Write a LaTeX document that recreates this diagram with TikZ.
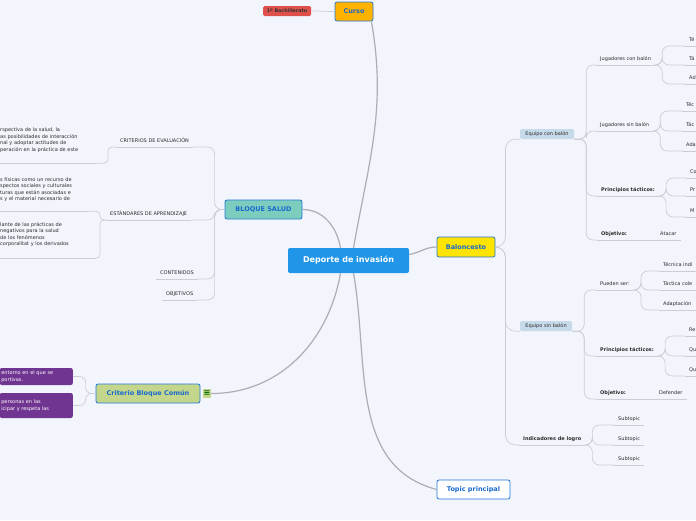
\documentclass[tikz,border=0pt]{standalone}
\usepackage{fontspec}
\setmainfont{DejaVu Sans}
\definecolor{bgcol}{RGB}{243,245,252}
\definecolor{maincol}{RGB}{33,150,232}
\definecolor{edgeblue}{RGB}{35,120,215}
\definecolor{txtblue}{RGB}{25,105,205}
\definecolor{orangecol}{RGB}{255,178,0}
\definecolor{yellowcol}{RGB}{255,228,0}
\definecolor{tealcol}{RGB}{125,205,190}
\definecolor{greencol}{RGB}{195,214,140}
\definecolor{redcol}{RGB}{222,80,74}
\definecolor{purplecol}{RGB}{112,52,145}
\definecolor{lightblue}{RGB}{198,218,234}
\definecolor{linecol}{RGB}{204,206,214}
\definecolor{maingray}{RGB}{172,174,182}
\definecolor{txtgray}{RGB}{45,45,45}
\newcommand*{\mapfs}{\fontsize{5}{6.5}\selectfont}

\begin{document}
\begin{tikzpicture}[x=1pt,y=1pt,
    topbox/.style={draw=edgeblue,line width=0.8pt,rounded corners=2pt,inner sep=0pt,
      font=\fontsize{6.5}{7}\selectfont\bfseries,text=txtblue},
    mainbox/.style={fill=maincol,rounded corners=2pt,inner sep=0pt,text=white,
      font=\fontsize{8}{9}\selectfont\bfseries,minimum width=121pt,minimum height=25pt},
    eqbox/.style={fill=lightblue,rounded corners=1.5pt,inner sep=0pt,font=\mapfs,text=txtgray,
      minimum height=10pt},
    purplebox/.style={fill=purplecol,rounded corners=2pt,inner xsep=1.5pt,inner ysep=0pt,
      text width=70pt,align=left,font=\mapfs,text=white,anchor=east},
    ul/.style={font=\mapfs,text=txtgray,anchor=south west,inner xsep=4pt,inner ysep=3pt,
      text height=4pt,text depth=1.5pt,
      append after command={(\tikzlastnode.south west) edge[sub] (\tikzlastnode.south east)}},
    block/.style={font=\mapfs,text=txtgray,anchor=west,inner xsep=4pt,inner ysep=0pt,align=left,
      append after command={(\tikzlastnode.south west) edge[sub] (\tikzlastnode.south east)}},
    sub/.style={draw=linecol,line width=0.7pt},
    trunk/.style={draw=maingray,line width=1.2pt},
    brr/.style={sub,rounded corners=7pt,to path={-- ++(#1,0) |- (\tikztotarget)}},
    brr/.default=7,
    brl/.style={sub,rounded corners=4pt,to path={-- ++(-#1,0) |- (\tikztotarget)}},
    brl/.default=8]

    \fill[bgcol] (0,0) rectangle (696,-520);
    \useasboundingbox (0,0) rectangle (696,-520);

    % main topics
    \node[mainbox] (deporte) at (348.5,-260.5) {Deporte de invasión};
    \node[topbox,fill=orangecol,minimum width=38pt,minimum height=19pt] (curso) at (354,-11.5) {Curso};
    \node[fill=redcol,rounded corners=1.5pt,inner sep=0pt,minimum width=48pt,minimum height=10pt,
      font=\fontsize{4.8}{5}\selectfont\bfseries,text=black!80] (bach) at (287,-11) {1º Bachillerato};
    \node[topbox,fill=yellowcol,minimum width=58pt,minimum height=20pt] (balon) at (466,-247) {Baloncesto};
    \node[topbox,fill=white,minimum width=73pt,minimum height=19pt] (topic) at (473.5,-489.5) {Topic principal};
    \node[topbox,fill=tealcol,minimum width=77pt,minimum height=19pt] (salud) at (263.5,-209.5) {BLOQUE SALUD};
    \node[topbox,fill=greencol,minimum width=104pt,minimum height=19pt] (comun) at (148,-393.5) {Criterio Bloque Común};
    \node[fill=greencol,inner sep=0pt,minimum width=8pt,minimum height=9pt,
      font=\fontsize{8}{8}\selectfont\bfseries,text=black!60!green] (icon) at (207,-393.5) {≡};

    % Bloque salud
    \node[ul] (crit) at (116,-147) {CRITERIOS DE EVALUACIÓN};
    \node[ul] (estand) at (106,-220) {ESTÁNDARES DE APRENDIZAJE};
    \node[ul] (conten) at (156,-279) {CONTENIDOS};
    \node[ul] (objet) at (162,-300) {OBJETIVOS};
    \node[block,text width=92pt,minimum height=46pt] (critdesc) at (-4,-140)
      {rspectiva de la salud, la\\as posibilidades de interacción\\nal y adoptar actitudes de\\peración en la práctica de este};
    \node[block,text width=85pt,minimum height=43pt] (estdesca) at (-4,-189.5)
      {s físicas como un recurso de\\spectos sociales y culturales\\turas que están asociadas e\\s y el material necesario de};
    \node[block,text width=92pt,minimum height=47pt] (estdescb) at (-4,-234.5)
      {lante de las prácticas de\\negativos para la salud\\de los fenómenos\\corporalitat y los derivados};

    % Criterio bloque comun
    \node[purplebox,minimum height=17pt] (critA) at (73,-376.5) {entorno en el que se\\portivas.};
    \node[purplebox,minimum height=25pt] (critB) at (73,-405.5) {personas en las\\icipar y respeta las\\[6.5pt]};

    % Baloncesto
    \node[eqbox,minimum width=54pt] (eqcon) at (547,-134) {Equipo con balón};
    \node[eqbox,minimum width=52pt] (eqsin) at (546,-326) {Equipo sin balón};
    \node[ul,font=\mapfs\bfseries] (indic) at (519,-445) {Indicadores de logro};

    \node[ul] (jcb) at (596,-65) {Jugadores con balón};
    \node[ul] (jsb) at (596,-131) {Jugadores sin balón};
    \node[ul,font=\mapfs\bfseries] (pta) at (597,-196) {Principios tácticos:};
    \node[ul,font=\mapfs\bfseries] (obja) at (597,-240) {Objetivo:};
    \node[ul] (atacar) at (656,-240) {Atacar};
    \node[ul] (jcba) at (685,-46) {Té};
    \node[ul] (jcbb) at (685,-65) {Tá};
    \node[ul] (jcbc) at (685,-84) {Ad};
    \node[ul] (jsba) at (682,-111) {Téc};
    \node[ul] (jsbb) at (682,-131) {Tác};
    \node[ul] (jsbc) at (682,-151) {Ada};
    \node[ul] (ptaa) at (686,-178) {Co};
    \node[ul] (ptab) at (686,-196) {Pr};
    \node[ul] (ptac) at (686,-217) {M};

    \node[ul] (pueden) at (596,-290) {Pueden ser:};
    \node[ul,font=\mapfs\bfseries] (ptb) at (596,-356) {Principios tácticos:};
    \node[ul,font=\mapfs\bfseries] (objb) at (596,-399) {Objetivo:};
    \node[ul] (defender) at (655,-399) {Defender};
    \node[ul] (puea) at (659,-271) {Técnica indi};
    \node[ul] (pueb) at (659,-290) {Táctica cole};
    \node[ul] (puec) at (659,-310) {Adaptación};
    \node[ul] (ptba) at (685,-336) {Re};
    \node[ul] (ptbb) at (685,-356) {Qu};
    \node[ul] (ptbc) at (685,-376) {Qu};

    \node[ul] (suba) at (614,-425) {Subtopic};
    \node[ul] (subb) at (614,-445) {Subtopic};
    \node[ul] (subc) at (614,-465) {Subtopic};

    % trunk connectors
    \path[trunk]
    ([yshift=6pt]deporte.east) edge[out=10,in=180] (balon.west)
    ([xshift=5pt]deporte.north) edge[out=80,in=-80] ([xshift=-2pt]curso.south east)
    ([xshift=-8pt]deporte.north) edge[out=100,in=0] (salud.east)
    ([xshift=-8pt]deporte.south) edge[out=-100,in=0] (icon.east)
    ([xshift=5pt]deporte.south) edge[out=-80,in=165] (topic.west);
    \path (curso.west) edge[sub,out=180,in=0] (bach.east);

    % branches
    \path (salud.west) edge[brl=10,rounded corners=7pt] (crit.south east)
                       edge[brl=10,rounded corners=7pt] (estand.south east)
                       edge[brl=10,rounded corners=7pt] (conten.south east)
                       edge[brl=10,rounded corners=7pt] (objet.south east);
    \path (crit.south west) edge[brl] (critdesc.south east);
    \path (estand.south west) edge[brl=6] (estdesca.south east)
                              edge[brl=6] (estdescb.south east);
    \path (comun.west) edge[brl=10,rounded corners=6pt] (critA.east)
                       edge[brl=10,rounded corners=6pt] (critB.east);

    \path (balon.east) edge[brr=10,rounded corners=10pt] (eqcon.south west)
                       edge[brr=10,rounded corners=10pt] (eqsin.south west)
                       edge[brr=10,rounded corners=10pt] (indic.south west);
    \path (eqcon.south east) edge[brr=12] (jcb.south west)
                             edge[brr=12] (jsb.south west)
                             edge[brr=12] (pta.south west)
                             edge[brr=12] (obja.south west);
    \path (eqsin.south east) edge[brr=12] (pueden.south west)
                             edge[brr=12] (ptb.south west)
                             edge[brr=12] (objb.south west);
    \path (jcb.south east) edge[brr] (jcba.south west)
                           edge[brr] (jcbb.south west)
                           edge[brr] (jcbc.south west);
    \path (jsb.south east) edge[brr] (jsba.south west)
                           edge[brr] (jsbb.south west)
                           edge[brr] (jsbc.south west);
    \path (pta.south east) edge[brr] (ptaa.south west)
                           edge[brr] (ptab.south west)
                           edge[brr] (ptac.south west);
    \path (pueden.south east) edge[brr] (puea.south west)
                              edge[brr] (pueb.south west)
                              edge[brr] (puec.south west);
    \path (ptb.south east) edge[brr] (ptba.south west)
                           edge[brr] (ptbb.south west)
                           edge[brr] (ptbc.south west);
    \path (indic.south east) edge[brr] (suba.south west)
                             edge[brr] (subb.south west)
                             edge[brr] (subc.south west);
    \path (obja.south east) edge[sub] (atacar.south west);
    \path (objb.south east) edge[sub] (defender.south west);
\end{tikzpicture}
\end{document}
